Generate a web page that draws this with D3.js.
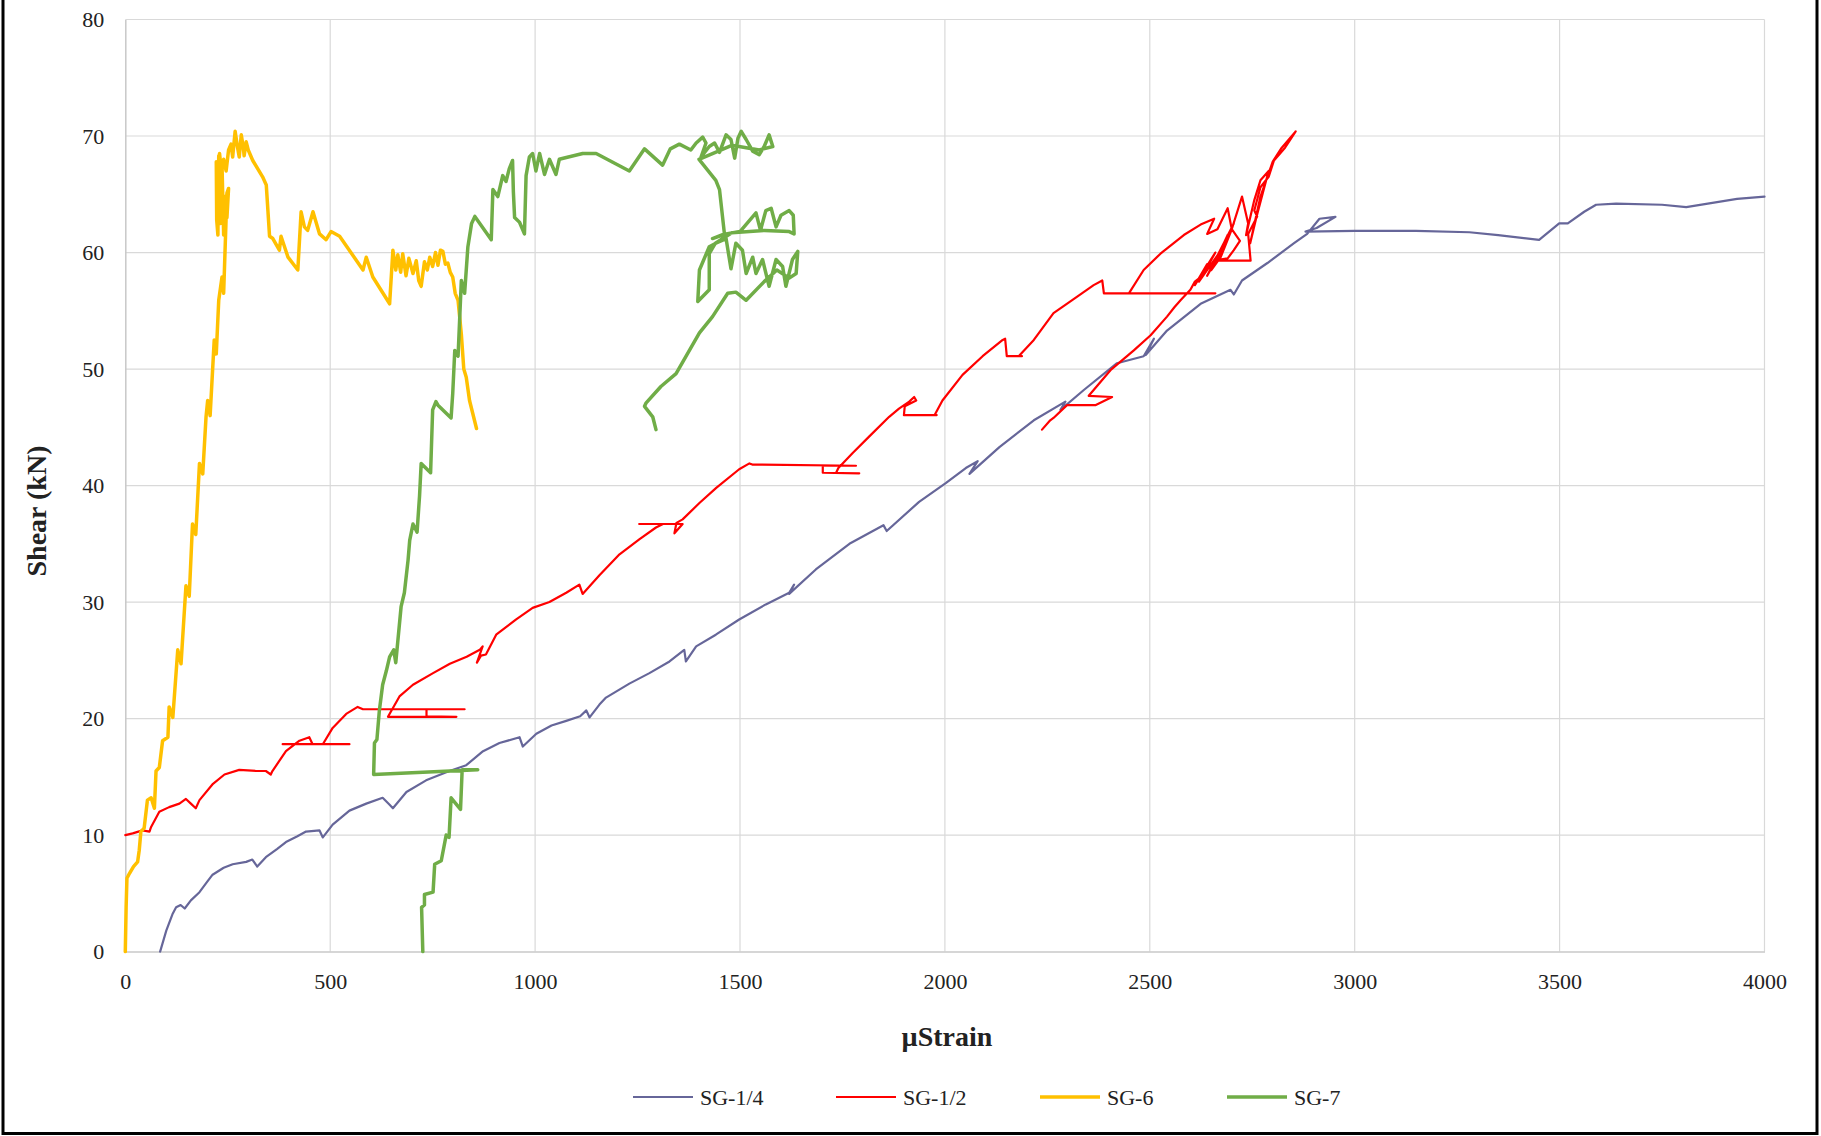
<!DOCTYPE html>
<html>
<head>
<meta charset="utf-8">
<script src="https://cdn.jsdelivr.net/npm/d3@7"></script>
<style>
  html, body { margin: 0; padding: 0; background: #fff; }
  svg { display: block; }
  text { font-family: "Liberation Serif", "Times New Roman", serif; }
</style>
</head>
<body>
<script>
// ---------------- DATA (µStrain, Shear kN) ----------------
const seriesNames = ["SG-1/4", "SG-1/2", "SG-6", "SG-7"];
const xTicks = [0, 500, 1000, 1500, 2000, 2500, 3000, 3500, 4000];
const yTicks = [0, 10, 20, 30, 40, 50, 60, 70, 80];

const sg14 = [[85,0],[100,1.8],[115,3.2],[124,3.8],[135,4.0],[145,3.7],[160,4.4],[181,5.1],[200,6.0],[213,6.6],[240,7.2],[262,7.5],[295,7.7],[310,7.9],[322,7.3],[343,8.1],[370,8.8],[392,9.4],[420,9.9],[441,10.3],[474,10.4],[482,9.8],[506,10.9],[547,12.1],[588,12.7],[628,13.2],[645,12.6],[653,12.3],[686,13.7],[734,14.7],[791,15.5],[832,16.0],[873,17.2],[913,17.9],[962,18.4],[970,17.6],[1003,18.7],[1040,19.4],[1076,19.8],[1110,20.2],[1125,20.7],[1133,20.1],[1157,21.2],[1173,21.8],[1230,23.0],[1279,23.9],[1328,24.9],[1364,25.9],[1368,24.9],[1393,26.2],[1441,27.2],[1498,28.5],[1563,29.8],[1620,30.8],[1632,31.5],[1620,30.7],[1685,32.8],[1767,35.0],[1850,36.6],[1858,36.1],[1937,38.6],[2002,40.2],[2051,41.5],[2080,42.1],[2060,41.0],[2133,43.3],[2217,45.6],[2294,47.2],[2282,46.5],[2339,48.2],[2420,50.5],[2485,51.1],[2510,52.6],[2490,51.2],[2542,53.3],[2624,55.6],[2697,56.8],[2705,56.4],[2725,57.6],[2787,59.1],[2852,60.8],[2884,61.6],[2914,62.9],[2953,63.06],[2907,62.1],[2880,61.8],[3000,61.85],[3150,61.85],[3280,61.74],[3350,61.5],[3450,61.08],[3499,62.5],[3520,62.5],[3560,63.5],[3589,64.1],[3638,64.2],[3750,64.1],[3809,63.9],[3933,64.6],[4000,64.8]];

const sg12 = [[0,10],[18,10.15],[42,10.4],[59,10.3],[63,10.7],[83,12],[107,12.4],[132,12.7],[148,13.1],[160,12.7],[172,12.3],[181,13],[214,14.4],[242,15.2],[278,15.6],[320,15.5],[343,15.5],[355,15.2],[359,15.5],[392,17.2],[425,18.1],[449,18.4],[457,17.8],[384,17.8],[547,17.8],[482,17.8],[506,19.2],[539,20.4],[567,21],[580,20.8],[828,20.8],[735,20.8],[735,20.2],[808,20.15],[641,20.15],[669,21.9],[702,22.9],[751,23.9],[792,24.7],[833,25.3],[865,25.9],[872,26.2],[858,24.8],[868,25.4],[880,25.5],[905,27.2],[953,28.5],[994,29.5],[1035,30],[1076,30.8],[1108,31.5],[1116,30.7],[1157,32.3],[1206,34.1],[1255,35.4],[1295,36.4],[1312,36.7],[1254,36.7],[1360,36.7],[1340,35.9],[1345,36.8],[1360,37.1],[1401,38.5],[1442,39.8],[1498,41.4],[1523,41.9],[1530,41.8],[1783,41.7],[1702,41.7],[1702,41.1],[1791,41.05],[1734,41.05],[1740,41.5],[1775,42.8],[1815,44.2],[1864,45.9],[1888,46.6],[1913,47.2],[1925,47.6],[1930,47.3],[1902,46.8],[1900,46.05],[1980,46.05],[1975,46.05],[1994,47.3],[2043,49.5],[2092,51.1],[2141,52.5],[2147,52.6],[2151,51.1],[2188,51.1],[2180,51.1],[2217,52.5],[2265,54.8],[2322,56.2],[2363,57.2],[2384,57.6],[2388,56.5],[2660,56.5],[2449,56.5],[2485,58.5],[2526,59.9],[2583,61.5],[2624,62.4],[2657,62.9],[2640,61.6],[2665,62.0],[2690,63.8],[2700,62.0],[2725,64.8],[2740,62.5],[2735,61.5],[2755,64.5],[2770,66.2],[2790,67.0],[2760,63.0],[2745,60.8],[2770,64.8],[2800,67.8],[2820,68.9],[2856,70.4],[2830,69.0],[2803,67.9],[2790,66.5],[2770,65.6],[2755,63.6],[2762,63.1],[2740,61.6],[2746,59.3],[2656,59.3],[2690,59.5],[2705,60.2],[2720,61.0],[2700,62.0],[2673,59.6],[2650,58.5],[2690,61.5],[2660,59.0],[2705,62.5],[2640,58.0],[2680,60.5],[2620,57.5],[2660,60.0],[2610,57.2],[2640,59.0],[2624,57.9],[2610,57.5],[2599,56.8],[2575,55.9],[2560,55.3],[2542,54.5],[2502,52.9],[2461,51.6],[2404,49.9],[2351,47.7],[2408,47.6],[2367,46.9],[2298,46.9],[2265,45.8],[2257,45.6],[2237,44.8]];

const sg6 = [[0,0],[2,3.8],[4,6.3],[10,6.7],[20,7.3],[30,7.7],[34,8.7],[38,10.3],[46,10.6],[54,13],[63,13.2],[71,12.3],[75,15.5],[83,15.8],[91,18.1],[104,18.4],[107,21],[116,20.1],[128,25.9],[136,24.7],[148,31.4],[156,30.5],[164,36.7],[172,35.8],[181,41.9],[189,41],[197,45.9],[201,47.3],[207,46],[217,52.5],[222,51.3],[228,55.9],[236,57.9],[240,56.5],[248,65.1],[252,65.5],[248,63],[243,64.8],[240,61.5],[236,67.5],[232,62.5],[228,68.3],[226,61.5],[223,62.8],[222,67.8],[225,66],[230,68.5],[235,66.8],[240,68],[246,67],[252,68.8],[258,69.3],[262,68.2],[268,70.4],[274,69],[278,68.2],[283,70.1],[288,69],[290,68.3],[295,69.5],[300,68.8],[311,67.9],[335,66.5],[344,65.8],[352,61.4],[360,61.2],[376,60.2],[380,61.4],[397,59.6],[421,58.5],[429,63.5],[437,62.2],[445,61.9],[458,63.5],[474,61.6],[490,61.1],[502,61.8],[523,61.4],[580,58.5],[588,59.6],[604,57.9],[645,55.6],[653,60.2],[660,58.5],[665,59.8],[672,58.3],[677,59.9],[685,58],[692,59.5],[702,58.2],[710,59.3],[716,57.6],[722,57.1],[730,59.2],[737,58.5],[743,59.6],[750,58.8],[757,60],[763,58.9],[769,60.2],[775,60.1],[781,59],[787,59.1],[793,58.3],[799,57.9],[805,56.5],[812,55.9],[820,53],[826,50],[832,49.3],[840,47.3],[857,44.9]];

const sg7 = [[726,0],[723,3.8],[730,4],[730,4.9],[751,5.1],[755,7.5],[771,7.8],[783,10],[790,9.8],[795,13.2],[818,12.2],[822,15.6],[860,15.6],[606,15.2],[608,17.9],[614,18.2],[620,20.7],[628,22.9],[637,24.1],[645,25.3],[655,25.9],[660,24.8],[673,29.6],[681,30.8],[690,33.6],[694,35.3],[702,36.7],[712,36],[718,39.1],[722,41.9],[745,41.1],[750,46.5],[758,47.2],[763,46.9],[795,45.8],[799,47.9],[804,51.6],[812,51.1],[820,57.6],[828,56.5],[836,60.5],[845,62.5],[853,63.1],[893,61.1],[897,65.4],[909,64.8],[921,66.6],[929,66.1],[937,67.2],[945,67.9],[947,65.2],[950,63],[962,62.6],[974,61.6],[978,66.6],[986,68.2],[994,68.5],[1002,67],[1011,68.5],[1023,66.7],[1035,68],[1051,66.7],[1059,68],[1116,68.5],[1149,68.5],[1230,67],[1267,68.9],[1311,67.5],[1330,68.9],[1352,69.3],[1380,68.8],[1393,69.4],[1409,69.9],[1417,69.4],[1405,68.2],[1425,69.1],[1438,69.4],[1450,68.6],[1466,70.1],[1478,69.7],[1487,68.1],[1495,69.8],[1503,70.4],[1515,69.7],[1531,68.7],[1547,68.4],[1559,69.1],[1571,70.1],[1580,69.1],[1547,68.8],[1480,69.2],[1400,68],[1441,66.2],[1450,65.4],[1462,61.6],[1433,61.2],[1466,61.6],[1500,61.8],[1539,63.4],[1550,61.9],[1563,63.6],[1576,63.8],[1588,62.2],[1600,63.2],[1620,63.6],[1630,63.2],[1632,61.6],[1620,61.8],[1560,61.9],[1480,61.7],[1440,60.8],[1425,59.9],[1425,56.8],[1397,55.8],[1401,58.5],[1425,60.5],[1441,60.8],[1466,61.2],[1478,58.6],[1490,60.8],[1506,60.2],[1515,58.2],[1531,59.6],[1539,58.2],[1555,59.4],[1571,57.1],[1588,59.4],[1604,58.8],[1612,57.1],[1628,59.4],[1641,60.1],[1637,58.2],[1620,57.8],[1590,58.5],[1559,57.5],[1515,55.9],[1490,56.6],[1470,56.5],[1433,54.5],[1401,53.1],[1344,49.6],[1307,48.5],[1271,47.1],[1267,46.8],[1287,45.9],[1295,44.8]];

const seriesData = [sg14, sg12, sg6, sg7];
const seriesColors = ["#666699", "#ff0000", "#ffc000", "#70ad47"];
const seriesWidths = [2.2, 2.2, 3.5, 3.5];

// ---------------- LAYOUT ----------------
const W = 1821, H = 1136;
const plot = { left: 125.3, right: 1764.5, top: 19.5, bottom: 951.6 };

const svg = d3.select("body").append("svg").attr("width", W).attr("height", H);
svg.append("rect").attr("width", W).attr("height", H).attr("fill", "#fff");

const x = d3.scaleLinear().domain([0, 4000]).range([plot.left, plot.right]);
const y = d3.scaleLinear().domain([0, 80]).range([plot.bottom, plot.top]);

// gridlines
const grid = svg.append("g");
grid.selectAll("line.h").data(yTicks.slice(1)).enter().append("line")
  .attr("x1", plot.left).attr("x2", plot.right)
  .attr("y1", d => y(d)).attr("y2", d => y(d))
  .attr("stroke", "#d9d9d9").attr("stroke-width", 1.2);
grid.selectAll("line.v").data(xTicks.slice(1)).enter().append("line")
  .attr("y1", plot.top).attr("y2", plot.bottom)
  .attr("x1", d => x(d)).attr("x2", d => x(d))
  .attr("stroke", "#d9d9d9").attr("stroke-width", 1.2);

// axes
const xAxis = d3.axisBottom(x).tickValues(xTicks).tickFormat(d3.format("d")).tickSize(0).tickPadding(22);
const yAxis = d3.axisLeft(y).tickValues(yTicks).tickFormat(d3.format("d")).tickSize(0).tickPadding(21);
const gx = svg.append("g").attr("transform", `translate(0,${plot.bottom})`).call(xAxis);
const gy = svg.append("g").attr("transform", `translate(${plot.left},0)`).call(yAxis);
[gx, gy].forEach(g => {
  g.attr("font-family", "Liberation Serif, serif");
  g.select(".domain").attr("stroke", "#c8c8c8").attr("stroke-width", 1.5);
  g.selectAll("text").attr("font-family", "Liberation Serif, serif")
    .attr("font-size", 22).attr("fill", "#222");
});

// series
const line = d3.line().x(d => x(d[0])).y(d => y(d[1]));
const lines = svg.append("g");
seriesData.forEach((s, i) => {
  lines.append("path").datum(s)
    .attr("d", line)
    .attr("fill", "none")
    .attr("stroke", seriesColors[i])
    .attr("stroke-width", seriesWidths[i])
    .attr("stroke-linejoin", "round")
    .attr("stroke-linecap", "round");
});

// axis titles
svg.append("text")
  .attr("transform", `translate(46,511) rotate(-90)`)
  .attr("text-anchor", "middle")
  .attr("font-size", 28).attr("font-weight", "bold").attr("fill", "#222")
  .text("Shear (kN)");
svg.append("text")
  .attr("x", 947).attr("y", 1046)
  .attr("text-anchor", "middle")
  .attr("font-size", 28).attr("font-weight", "bold").attr("fill", "#222")
  .text("µStrain");

// legend
const legendX = [633, 836, 1040, 1227];
const legend = svg.append("g");
seriesNames.forEach((name, i) => {
  const g = legend.append("g").attr("transform", `translate(${legendX[i]},1097)`);
  g.append("line").attr("x1", 0).attr("x2", 60).attr("y1", 0).attr("y2", 0)
    .attr("stroke", seriesColors[i]).attr("stroke-width", seriesWidths[i]);
  g.append("text").attr("x", 67).attr("y", 7.5)
    .attr("font-size", 22).attr("fill", "#222").text(name);
});

// outer frame (top edge cut off as in the reference)
svg.append("path")
  .attr("d", `M3,-5 L3,1133.5 L1817,1133.5 L1817,-5`)
  .attr("fill", "none").attr("stroke", "#000").attr("stroke-width", 3);
</script>
</body>
</html>
